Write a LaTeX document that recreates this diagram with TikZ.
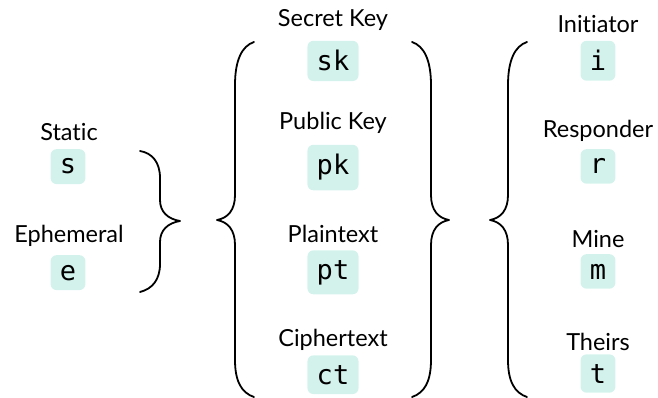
\documentclass[tikz,border=0pt]{standalone}
\usepackage{fontspec}
\setmainfont{Lato}[Ligatures=NoCommon]
\newfontfamily\codefont{DejaVu Sans Mono}
\definecolor{boxfill}{HTML}{D4F2EC}
\begin{document}
\begin{tikzpicture}[x=1pt,y=-1pt,
  lbl/.style={font=\fontsize{23.5}{28}\selectfont, anchor=base, inner sep=0pt},
  code/.style={font=\codefont\fontsize{27}{32}\selectfont, anchor=base, fill=boxfill, rounded corners=6pt, inner xsep=9.3pt, inner ysep=9.7pt},
  brace/.style={line width=1.8pt, line cap=round, line join=round}]
\useasboundingbox (0,0) rectangle (658,398);

% left group
\node[lbl] (lstatic) at (69,141) {Static};
\node[code] (cs) at (68,174) {s};
\node[lbl] (leph) at (69,242) {Ephemeral};
\node[code] (ce) at (68,280) {e};

% middle group
\node[lbl] (lsk) at (333,27) {Secret Key};
\node[code] (csk) at (333,71) {sk};
\node[lbl] (lpk) at (333,130) {Public Key};
\node[code] (cpk) at (333,175) {pk};
\node[lbl] (lpt) at (333,242) {Plaintext};
\node[code] (cpt) at (333,279) {pt};
\node[lbl] (lct) at (333,346) {Ciphertext};
\node[code] (cct) at (333,384) {ct};

% right group
\node[lbl] (li) at (598,33) {Initiator};
\node[code] (ci) at (598,71) {i};
\node[lbl] (lr) at (598,138) {Responder};
\node[code] (cr) at (598,174) {r};
\node[lbl] (lm) at (598,247) {Mine};
\node[code] (cm) at (598,279) {m};
\node[lbl] (lt) at (598,350) {Theirs};
\node[code] (ct) at (598,383) {t};

% braces
\draw[brace] (140,151) .. controls (152,153) and (160,162) .. (160,178) -- (160,200)
  .. controls (160,212) and (168,219) .. (180,221)
  .. controls (168,223) and (160,230) .. (160,242) -- (160,264)
  .. controls (160,280) and (152,289) .. (140,292);

\draw[brace] (254,42) .. controls (242,46) and (235,60) .. (235,85) -- (235,195)
  .. controls (235,210) and (228,218) .. (217,220)
  .. controls (228,222) and (235,230) .. (235,245) -- (235,360)
  .. controls (235,382) and (242,393) .. (254,397);

\draw[brace] (412,42) .. controls (424,46) and (431,60) .. (431,85) -- (431,195)
  .. controls (431,210) and (438,218) .. (449,220)
  .. controls (438,222) and (431,230) .. (431,245) -- (431,360)
  .. controls (431,382) and (424,393) .. (412,397);

\begin{scope}[xshift=273pt]
\draw[brace] (254,42) .. controls (242,46) and (235,60) .. (235,85) -- (235,195)
  .. controls (235,210) and (228,218) .. (217,220)
  .. controls (228,222) and (235,230) .. (235,245) -- (235,360)
  .. controls (235,382) and (242,393) .. (254,397);
\end{scope}
\end{tikzpicture}
\end{document}
